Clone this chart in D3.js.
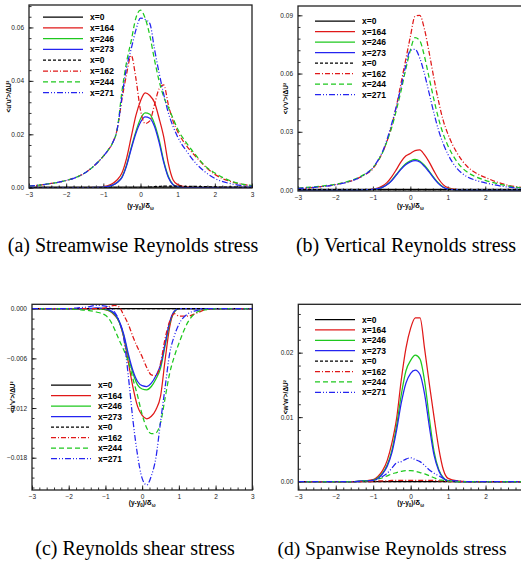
<!DOCTYPE html>
<html>
<head>
<meta charset="utf-8">
<script src="https://d3js.org/d3.v7.min.js"></script>
<style>
  body { margin: 0; background: #fff; }
  svg { display: block; }
  .cap { font-family: 'Liberation Serif', 'Times New Roman', serif; }
  .sans { font-family: 'Liberation Sans', Arial, sans-serif; }
</style>
</head>
<body>
<script>
// common abscissa (y-y0)/delta_w
var xs = [-3,-2.5,-2,-1.75,-1.5,-1.25,-1,-0.875,-0.75,-0.625,-0.5,-0.375,-0.25,-0.125,0,0.125,0.25,0.375,0.5,0.625,0.75,0.875,1,1.25,1.5,1.75,2,2.5,3];

// legend labels, same in every panel
var labels = ["x=0","x=164","x=246","x=273","x=0","x=162","x=244","x=271"];

// (a) <u'u'>
var uu0   = [0.0002,0.0002,0.0002,0.0002,0.0002,0.0002,0.0002,0.0002,0.0002,0.0002,0.0002,0.0002,0.0002,0.0002,0.0002,0.0002,0.0002,0.0002,0.0002,0.0002,0.0002,0.0002,0.0002,0.0002,0.0002,0.0002,0.0002,0.0002,0.0002];
var uu164 = [0,0,0,0,0,0.0001,0.0004,0.0008,0.0016,0.003,0.0055,0.011,0.019,0.027,0.0325,0.0355,0.0345,0.032,0.026,0.019,0.009,0.003,0.0012,0.0002,0,0,0,0,0];
var uu246 = [0,0,0,0,0,0.0001,0.0002,0.0005,0.001,0.002,0.004,0.0085,0.015,0.021,0.0258,0.028,0.0275,0.024,0.018,0.01,0.0042,0.0012,0.0003,0,0,0,0,0,0];
var uu273 = [0,0,0,0,0,0.0001,0.0002,0.0005,0.001,0.002,0.0038,0.0082,0.0145,0.0203,0.0245,0.0265,0.026,0.023,0.017,0.0095,0.0038,0.0011,0.0003,0,0,0,0,0,0];
var uu0d  = [0,0,0,0,0,0,0,0,0,0,0,0,0,0,0,0,0.0002,0.0004,0.0005,0.0006,0.0006,0.0006,0.0006,0.0005,0.0005,0.0004,0.0003,0.0002,0.0001];
var uu162 = [0.0006,0.0014,0.0027,0.0038,0.0055,0.0082,0.0118,0.014,0.0168,0.022,0.033,0.0425,0.0495,0.041,0.029,0.024,0.025,0.031,0.037,0.0385,0.031,0.025,0.021,0.0155,0.0115,0.0078,0.005,0.002,0.0008];
var uu244 = [0.0006,0.0014,0.0027,0.0038,0.0055,0.0082,0.0118,0.014,0.0168,0.022,0.036,0.047,0.055,0.0635,0.0665,0.0635,0.057,0.048,0.04,0.034,0.03,0.026,0.022,0.0165,0.012,0.008,0.0055,0.0022,0.0008];
var uu271 = [0.0006,0.0014,0.0027,0.0038,0.0055,0.0082,0.0118,0.014,0.0168,0.022,0.034,0.045,0.052,0.059,0.0635,0.063,0.0615,0.052,0.043,0.035,0.028,0.023,0.019,0.0135,0.009,0.0058,0.0035,0.0013,0.0005];

// (b) <v'v'>
var vv0   = [0.0003,0.0003,0.0003,0.0003,0.0003,0.0003,0.0003,0.0003,0.0003,0.0003,0.0003,0.0003,0.0003,0.0003,0.0003,0.0003,0.0003,0.0003,0.0003,0.0003,0.0003,0.0003,0.0003,0.0003,0.0003,0.0003,0.0003,0.0003,0.0003];
var vv164 = [0,0,0,0,0,0.0001,0.0005,0.001,0.002,0.0038,0.0068,0.0105,0.0145,0.0175,0.0188,0.0203,0.0207,0.0182,0.0145,0.01,0.0058,0.0028,0.0012,0.0002,0,0,0,0,0];
var vv246 = [0,0,0,0,0,0.0001,0.0003,0.0007,0.0014,0.0028,0.005,0.008,0.011,0.0135,0.015,0.0158,0.015,0.0128,0.0098,0.0065,0.0036,0.0016,0.0006,0.0001,0,0,0,0,0];
var vv273 = [0,0,0,0,0,0.0001,0.0003,0.0007,0.0014,0.0027,0.0048,0.0077,0.0106,0.013,0.0145,0.0151,0.0144,0.0122,0.0093,0.0061,0.0033,0.0014,0.0005,0.0001,0,0,0,0,0];
var vv0d  = [0.0002,0.0002,0.0002,0.0002,0.0002,0.0002,0.0002,0.0002,0.0002,0.0002,0.0002,0.0002,0.0002,0.0002,0.0002,0.0002,0.0002,0.0002,0.0002,0.0002,0.0002,0.0002,0.0002,0.0002,0.0002,0.0002,0.0002,0.0002,0.0002];
var vv162 = [0.0008,0.0015,0.0028,0.0038,0.0052,0.0075,0.011,0.0145,0.019,0.025,0.033,0.043,0.055,0.067,0.079,0.0895,0.09,0.083,0.071,0.058,0.046,0.036,0.029,0.019,0.0125,0.0088,0.0065,0.003,0.0012];
var vv244 = [0.001,0.0018,0.003,0.004,0.0055,0.0078,0.0115,0.0148,0.019,0.025,0.032,0.041,0.051,0.062,0.072,0.0785,0.077,0.069,0.058,0.047,0.037,0.029,0.023,0.0145,0.0095,0.0068,0.005,0.0025,0.001];
var vv271 = [0.0008,0.0015,0.0027,0.0037,0.0052,0.0076,0.0115,0.015,0.0195,0.026,0.034,0.043,0.053,0.064,0.072,0.0725,0.068,0.06,0.05,0.04,0.031,0.024,0.0185,0.011,0.007,0.005,0.0037,0.0018,0.0008];

// (c) <u'v'>
var uv0   = [0,0,0,0,0,0,0,0,0,0,0,0,0,0,0,0,0,0,0,0,0,0,0,0,0,0,0,0,0];
var uv164 = [0,0,0,0,0,0,-0.0001,-0.0003,-0.0008,-0.0016,-0.0035,-0.0065,-0.0095,-0.0118,-0.0129,-0.0133,-0.013,-0.0122,-0.0106,-0.0062,-0.0022,-0.0004,0,0,0,0,0,0,0];
var uv246 = [0,0,0,0,0,0,-0.0001,-0.0003,-0.0007,-0.0016,-0.0033,-0.0058,-0.0078,-0.0092,-0.0097,-0.0098,-0.0094,-0.0085,-0.0072,-0.0045,-0.0018,-0.0004,0,0,0,0,0,0,0];
var uv273 = [0,0,0,0,0,0.0001,0,-0.0002,-0.0006,-0.0015,-0.0031,-0.0055,-0.0075,-0.0088,-0.0093,-0.0094,-0.009,-0.0081,-0.0068,-0.0042,-0.0016,-0.0003,0,0,0,0,0,0,0];
var uv0d  = [0,0,0,0,0,0,0,0,0,0,0,0,0,0,0,0,0,0,0,0,0,0,0,0,0,0,0,0,0];
var uv162 = [0,0,0,0,0,0,0.0001,0.0003,0.0004,0.0002,-0.0008,-0.0019,-0.0034,-0.0047,-0.0058,-0.0071,-0.008,-0.0081,-0.0066,-0.0036,-0.0015,-0.0006,-0.0009,-0.0009,-0.0005,-0.0001,0,0,0];
var uv244 = [0,0,0,-0.0001,-0.0002,-0.0004,-0.0008,-0.0014,-0.0025,-0.0038,-0.005,-0.0064,-0.0085,-0.0105,-0.0128,-0.0144,-0.0151,-0.015,-0.0138,-0.0108,-0.0078,-0.0058,-0.0042,-0.0016,-0.0004,-0.0001,0,0,0];
var uv271 = [0,0,0,0.0001,0.0002,0.0004,0.0003,0.0001,-0.0004,-0.0015,-0.0036,-0.0082,-0.0135,-0.0177,-0.0205,-0.0213,-0.0202,-0.018,-0.0137,-0.0095,-0.0054,-0.0033,-0.0019,-0.0006,-0.0002,0,0,0,0];

// (d) <w'w'>
var ww0   = [0,0,0,0,0,0,0,0,0,0,0,0,0,0,0,0,0,0,0,0,0,0,0,0,0,0,0,0,0];
var ww164 = [0,0,0,0,0,0.0001,0.0003,0.0008,0.0017,0.0033,0.006,0.0098,0.0158,0.0207,0.0238,0.0254,0.0254,0.0205,0.0151,0.01,0.0052,0.0018,0.0005,0.0001,0,0,0,0,0];
var ww246 = [0,0,0,0,0,0.0001,0.0002,0.0006,0.0013,0.0026,0.0049,0.0087,0.0135,0.0172,0.0188,0.0196,0.019,0.0155,0.0098,0.0047,0.0019,0.0006,0.0001,0,0,0,0,0,0];
var ww273 = [0,0,0,0,0,0.0001,0.0002,0.0005,0.0012,0.0024,0.0045,0.008,0.0122,0.0153,0.0168,0.0173,0.0166,0.0135,0.0085,0.0041,0.0017,0.0005,0.0001,0,0,0,0,0,0];
var ww0d  = [0,0,0,0,0,0,0,0,0,0,0,0,0,0,0,0,0,0,0,0,0,0,0,0,0,0,0,0,0];
var ww162 = [0,0,0,0,0,0,0,0.0001,0.0001,0.0001,0.0002,0.0002,0.0002,0.0002,0.0002,0.0002,0.0002,0.0002,0.0002,0.0002,0.0001,0.0001,0,0,0,0,0,0,0];
var ww244 = [0,0,0,0,0,0.0001,0.0002,0.0004,0.0006,0.0009,0.0012,0.0014,0.0016,0.0017,0.0017,0.0016,0.0014,0.0012,0.0009,0.0006,0.0003,0.0002,0.0001,0,0,0,0,0,0];
var ww271 = [0,0,0,0,0,0.0001,0.0002,0.0004,0.0008,0.0013,0.0021,0.0029,0.0031,0.0035,0.0037,0.0034,0.0031,0.0025,0.0018,0.0013,0.0009,0.0005,0.0002,0.0001,0,0,0,0,0];

// line styles for the 8 series (solid LES / dashed other)
var colors = ["#000000","#e01818","#1ec81e","#2424f0","#000000","#e01818","#1ec81e","#2424f0"];
var dashes = [null,null,null,null,"3,2","5,2,1,2","5,3","6,2,1,2,1,2"];

// panel layout
var panels = [
  {series:[uu0,uu164,uu246,uu273,uu0d,uu162,uu244,uu271], left:29, right:252, top:5, bottom:188,
   yDom:[-0.0001,0.0684], major:[0,0.02,0.04,0.06], minorStep:0.004, fmt:".2f", xTicks:[-3,-2,-1,0,1,2,3],
   ylab:"<u'u'>/ΔU²", ylabX:11, xlabY:208, legX:43, legY:17, legDy:10.8,
   caption:"(a)  Streamwise Reynolds stress", capX:133, capY:252, capSize:20},
  {series:[vv0,vv164,vv246,vv273,vv0d,vv162,vv244,vv271], left:298, right:522.7, top:6, bottom:191,
   yDom:[-0.0005,0.0948], major:[0,0.03,0.06,0.09], minorStep:0.006, fmt:".2f", xTicks:[-3,-2,-1,0,1,2],
   ylab:"<v'v'>/ΔU²", ylabX:288, xlabY:208, legX:315, legY:21, legDy:10.5,
   caption:"(b)  Vertical Reynolds stress", capX:406, capY:252, capSize:20},
  {series:[uv0,uv164,uv246,uv273,uv0d,uv162,uv244,uv271], left:32, right:252.3, top:304.3, bottom:490,
   yDom:[-0.0219,0.00053], major:[0,-0.006,-0.012,-0.018], minorStep:0.0012, fmt:".3f", xTicks:[-3,-2,-1,0,1,2,3],
   ylab:"<u'v'>/ΔU²", ylabX:15, xlabY:505, legX:51, legY:385, legDy:10.5,
   caption:"(c)  Reynolds shear stress", capX:135, capY:555, capSize:20},
  {series:[ww0,ww164,ww246,ww273,ww0d,ww162,ww244,ww271], left:298.3, right:523, top:304.3, bottom:490,
   yDom:[-0.0013,0.0275], major:[0,0.01,0.02], minorStep:0.002, fmt:".2f", xTicks:[-3,-2,-1,0,1,2],
   ylab:"<w'w'>/ΔU²", ylabX:288, xlabY:505, legX:315, legY:319.5, legDy:10.4,
   caption:"(d)  Spanwise Reynolds stress", capX:392, capY:555, capSize:19.5}
];

var svg = d3.select("body").append("svg")
  .attr("width", 521)
  .attr("height", 570);

panels.forEach(function(p, pi) {
  var x = d3.scaleLinear().domain([-3, 3]).range([p.left, p.right]);
  var y = d3.scaleLinear().domain(p.yDom).range([p.bottom, p.top]);
  var g = svg.append("g");

  g.append("clipPath").attr("id", "clip" + pi)
    .append("rect")
    .attr("x", p.left).attr("y", p.top)
    .attr("width", p.right - p.left).attr("height", p.bottom - p.top);

  // minor ticks
  var minors = d3.range(Math.ceil(p.yDom[0] / p.minorStep) * p.minorStep, p.yDom[1], p.minorStep);
  g.append("g").attr("transform", "translate(" + p.left + ",0)")
    .call(d3.axisLeft(y).tickValues(minors).tickSize(-2.5).tickFormat(""))
    .call(function(s) { s.select(".domain").remove(); });
  g.append("g").attr("transform", "translate(0," + p.bottom + ")")
    .call(d3.axisBottom(x).tickValues(d3.range(-3, 3.01, 0.2)).tickSize(-2.5).tickFormat(""))
    .call(function(s) { s.select(".domain").remove(); });

  // major ticks with labels
  g.append("g").attr("transform", "translate(" + p.left + ",0)")
    .call(d3.axisLeft(y).tickValues(p.major).tickSize(-4.5).tickPadding(5).tickFormat(d3.format(p.fmt)))
    .call(function(s) { s.select(".domain").remove(); });
  g.append("g").attr("transform", "translate(0," + p.bottom + ")")
    .call(d3.axisBottom(x).tickValues(p.xTicks).tickSize(-4.5).tickPadding(4).tickFormat(d3.format("d")))
    .call(function(s) { s.select(".domain").remove(); });

  g.selectAll(".tick line").attr("stroke", "#000").attr("stroke-width", 0.8);
  g.selectAll(".tick text").attr("class", "sans").attr("font-family", null)
    .attr("font-size", 6.5).attr("fill", "#222");

  // curves
  var line = d3.line()
    .x(function(d, i) { return x(xs[i]); })
    .y(function(d) { return y(d); })
    .curve(d3.curveMonotoneX);

  var plot = g.append("g").attr("clip-path", "url(#clip" + pi + ")");
  p.series.forEach(function(s, i) {
    plot.append("path")
      .attr("d", line(s))
      .attr("fill", "none")
      .attr("stroke", colors[i])
      .attr("stroke-width", 1.25)
      .attr("stroke-dasharray", dashes[i]);
  });

  // frame
  g.append("rect")
    .attr("x", p.left).attr("y", p.top)
    .attr("width", p.right - p.left).attr("height", p.bottom - p.top)
    .attr("fill", "none").attr("stroke", "#222").attr("stroke-width", 1.3);

  // legend
  var leg = g.append("g");
  labels.forEach(function(lab, i) {
    var ly = p.legY + i * p.legDy;
    leg.append("line")
      .attr("x1", p.legX).attr("x2", p.legX + 40)
      .attr("y1", ly).attr("y2", ly)
      .attr("stroke", colors[i]).attr("stroke-width", 1.25)
      .attr("stroke-dasharray", dashes[i]);
    leg.append("text")
      .attr("class", "sans")
      .attr("x", p.legX + 47).attr("y", ly + 3)
      .attr("font-weight", "bold").attr("font-size", 8.5)
      .text(lab);
  });

  // axis titles
  var cx = (p.left + p.right) / 2;
  var xt = g.append("text")
    .attr("class", "sans")
    .attr("x", cx).attr("y", p.xlabY)
    .attr("text-anchor", "middle")
    .attr("font-size", 6.5).attr("font-weight", "bold");
  xt.append("tspan").text("(y-y");
  xt.append("tspan").attr("font-size", 4.5).attr("dy", 1.5).text("0");
  xt.append("tspan").attr("dy", -1.5).text(")/");
  xt.append("tspan").attr("font-size", 8).text("δ");
  xt.append("tspan").attr("font-size", 4.5).attr("dy", 1.5).text("ω");

  g.append("text")
    .attr("class", "sans")
    .attr("transform", "translate(" + p.ylabX + "," + y((p.yDom[0] + p.yDom[1]) / 2) + ") rotate(-90)")
    .attr("text-anchor", "middle")
    .attr("font-size", 6.5).attr("font-weight", "bold")
    .text(p.ylab);

  // caption, centred under its panel
  svg.append("text")
    .attr("class", "cap")
    .attr("x", p.capX).attr("y", p.capY)
    .attr("text-anchor", "middle")
    .attr("font-size", p.capSize)
    .text(p.caption);
});
</script>
</body>
</html>
